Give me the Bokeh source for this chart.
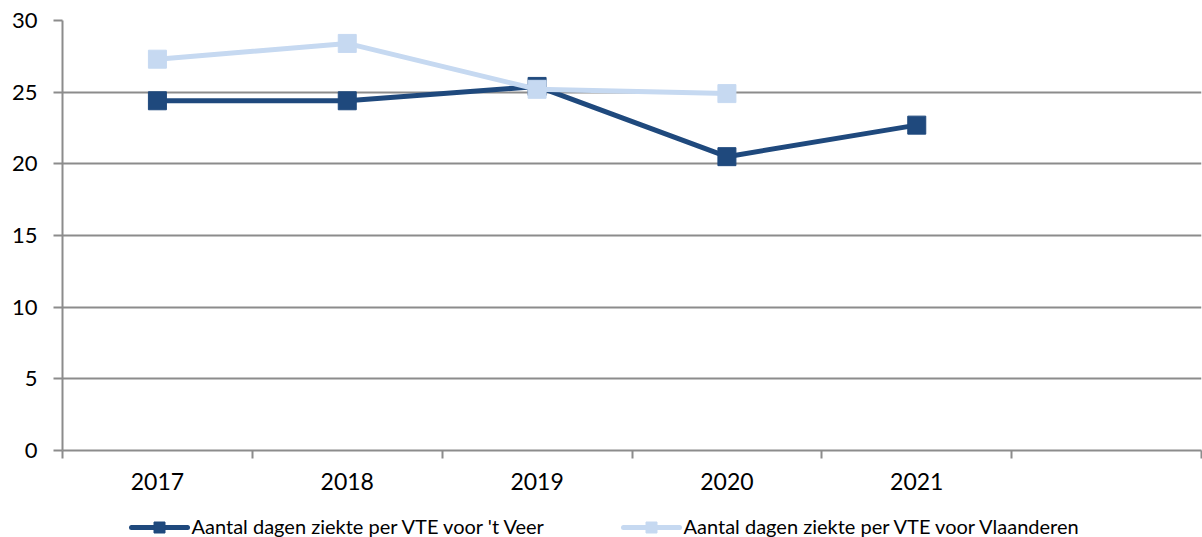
from bokeh.plotting import figure
from bokeh.layouts import column
from bokeh.models import FixedTicker, ColumnDataSource, Range1d
from bokeh.core.properties import value
from bokeh.embed import file_html
from bokeh.resources import INLINE

# Sickness days per FTE, per year
years = ["2017", "2018", "2019", "2020", "2021"]
veer = [24.4, 24.4, 25.4, 20.5, 22.7]
vlaanderen = [27.3, 28.4, 25.2, 24.9]
n_slots = 6  # one empty category slot after the last year

series_labels = ["Aantal dagen ziekte per VTE voor 't Veer",
                 "Aantal dagen ziekte per VTE voor Vlaanderen"]

dark = "#1F497D"
light = "#C6D9F1"
grey = "#8C8C8C"
font = "Lato"

p = figure(width=1202, height=500, output_backend="svg", toolbar_location=None,
           x_range=(0, n_slots), y_range=(0, 30),
           min_border_left=62, min_border_right=1, min_border_top=20,
           min_border_bottom=50)
p.outline_line_color = None
p.background_fill_color = "white"
p.border_fill_color = "white"

src_veer = ColumnDataSource(dict(x=[i + 0.5 for i in range(len(veer))], y=veer))
src_vl = ColumnDataSource(dict(x=[i + 0.5 for i in range(len(vlaanderen))], y=vlaanderen))

p.line("x", "y", source=src_veer, line_color=dark, line_width=5)
p.scatter("x", "y", source=src_veer, marker="square", size=18,
          fill_color=dark, line_color=dark)
p.line("x", "y", source=src_vl, line_color=light, line_width=5)
p.scatter("x", "y", source=src_vl, marker="square", size=18,
          fill_color=light, line_color=light)

# x axis: labels at slot centres, tick marks on slot boundaries
p.xaxis.ticker = FixedTicker(ticks=[i + 0.5 for i in range(n_slots)],
                             minor_ticks=list(range(n_slots + 1)))
p.xaxis.major_label_overrides = {i + 0.5: (years[i] if i < len(years) else "")
                                 for i in range(n_slots)}
p.xaxis.major_tick_line_color = None
p.xaxis.major_tick_out = 0
p.xaxis.major_tick_in = 0
p.xaxis.minor_tick_out = 8
p.xaxis.minor_tick_in = 0
p.xaxis.minor_tick_line_color = grey
p.xaxis.minor_tick_line_width = 2
p.xaxis.axis_line_color = grey
p.xaxis.axis_line_width = 2
p.xaxis.major_label_standoff = 14
p.xaxis.major_label_text_font = font
p.xaxis.major_label_text_font_size = "23px"
p.xaxis.major_label_text_color = "black"
p.xgrid.grid_line_color = None

p.yaxis.ticker = FixedTicker(ticks=[0, 5, 10, 15, 20, 25, 30])
p.yaxis.major_tick_out = 9
p.yaxis.major_tick_in = 0
p.yaxis.minor_tick_line_color = None
p.yaxis.major_tick_line_color = grey
p.yaxis.major_tick_line_width = 2
p.yaxis.axis_line_color = grey
p.yaxis.axis_line_width = 2
p.yaxis.major_label_standoff = 16
p.yaxis.major_label_text_font = font
p.yaxis.major_label_text_font_size = "22px"
p.yaxis.major_label_text_color = "black"
p.ygrid.grid_line_color = grey
p.ygrid.grid_line_width = 2

# legend strip under the chart; its frame is aligned with the chart frame,
# so the x range is given in page pixels (62..1201) and y runs from the top
leg = figure(width=1202, height=37, output_backend="svg", toolbar_location=None,
             x_range=Range1d(62, 1201), y_range=Range1d(37, 0),
             min_border=0, min_border_left=62, min_border_right=1,
             x_axis_type=None, y_axis_type=None)
leg.outline_line_color = None
leg.grid.visible = False
leg.border_fill_color = "white"

sw_start = [131, 623]
sw_len = 56
sw_y = 27
colors = [dark, light]
for x0, c, lab in zip(sw_start, colors, series_labels):
    leg.line([x0, x0 + sw_len], [sw_y, sw_y], line_color=c, line_width=5,
             line_cap="round")
    leg.scatter([x0 + sw_len / 2], [sw_y], marker="square", size=11,
                fill_color=c, line_color=c)
    leg.text([x0 + sw_len + 4], [sw_y - 1.5], text=[lab], text_font=value(font),
             text_font_size="20px", text_baseline="middle", text_align="left",
             text_color="black")

open("out.html", "w").write(file_html(column(p, leg, spacing=0), INLINE))
